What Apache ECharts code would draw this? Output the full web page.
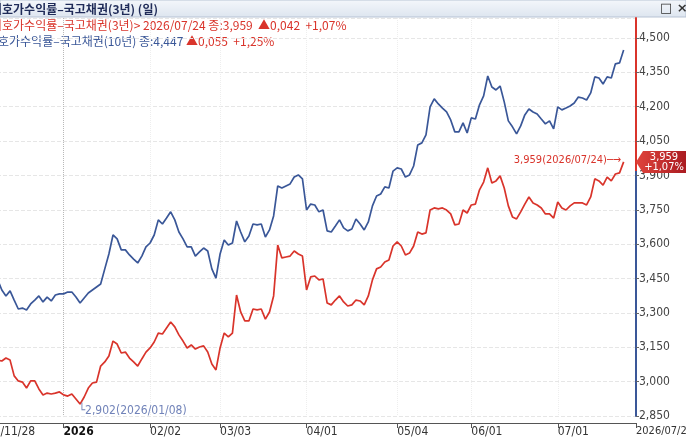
<!DOCTYPE html>
<html>
<head>
<meta charset="utf-8">
<title>호가수익률 - 국고채권</title>
<script src="https://cdn.jsdelivr.net/npm/echarts@6.0.0/dist/echarts.min.js"></script>
<style>
  html, body { margin: 0; padding: 0; background: #fff; }
  #main { width: 686px; height: 440px; }
</style>
</head>
<body>
<div id="main"></div>
<script>
// 거래일 인덱스 (0 = 2025/11/28)
const dayCount = 162;
const tickIdx = [0, 22, 43, 60, 81, 103, 121, 142, 161];
const tickText = ['2025/11/28', '2026', '02/02', '03/03', '04/01', '05/04', '06/01', '07/01', '2026/07/24'];

// 국고채권 10년
const yield10 = [
  3.461, 3.487, 3.470, 3.435, 3.452, 3.426, 3.444, 3.400, 3.374, 3.396,
  3.356, 3.317, 3.321, 3.313, 3.339, 3.356, 3.374, 3.348, 3.369, 3.352,
  3.378, 3.383, 3.383, 3.391, 3.391, 3.369, 3.343, 3.365, 3.387, 3.400,
  3.413, 3.426, 3.492, 3.557, 3.640, 3.623, 3.575, 3.575, 3.553, 3.535,
  3.518, 3.548, 3.588, 3.605, 3.640, 3.706, 3.688, 3.714, 3.741, 3.706,
  3.653, 3.623, 3.588, 3.588, 3.548, 3.566, 3.583, 3.570, 3.492, 3.452,
  3.557, 3.618, 3.596, 3.605, 3.701, 3.653, 3.610, 3.636, 3.688, 3.684,
  3.688, 3.631, 3.662, 3.723, 3.854, 3.845, 3.854, 3.863, 3.893, 3.902,
  3.885, 3.749, 3.775, 3.771, 3.741, 3.749, 3.658, 3.653, 3.679, 3.706,
  3.671, 3.658, 3.666, 3.710, 3.688, 3.662, 3.697, 3.767, 3.810, 3.819,
  3.850, 3.845, 3.919, 3.933, 3.928, 3.893, 3.902, 3.941, 4.033, 4.042,
  4.077, 4.199, 4.234, 4.212, 4.194, 4.177, 4.142, 4.090, 4.090, 4.129,
  4.085, 4.151, 4.146, 4.208, 4.247, 4.334, 4.286, 4.273, 4.290, 4.221,
  4.138, 4.112, 4.081, 4.116, 4.164, 4.190, 4.177, 4.168, 4.146, 4.125,
  4.138, 4.103, 4.199, 4.186, 4.194, 4.203, 4.216, 4.242, 4.238, 4.229,
  4.260, 4.330, 4.325, 4.299, 4.330, 4.325, 4.387, 4.391, 4.447
];

// 국고채권 3년
const yield3 = [
  3.116, 3.138, 3.125, 3.094, 3.108, 3.086, 3.094, 3.090, 3.103, 3.094,
  3.025, 3.003, 2.998, 2.972, 3.003, 3.003, 2.968, 2.942, 2.950, 2.946,
  2.950, 2.955, 2.942, 2.937, 2.946, 2.924, 2.902, 2.933, 2.972, 2.994,
  2.998, 3.068, 3.086, 3.112, 3.177, 3.164, 3.125, 3.129, 3.103, 3.086,
  3.068, 3.099, 3.129, 3.147, 3.173, 3.212, 3.208, 3.234, 3.260, 3.239,
  3.204, 3.177, 3.147, 3.160, 3.142, 3.151, 3.156, 3.129, 3.077, 3.051,
  3.147, 3.212, 3.195, 3.212, 3.378, 3.304, 3.265, 3.265, 3.317, 3.313,
  3.317, 3.273, 3.304, 3.374, 3.596, 3.540, 3.544, 3.548, 3.570, 3.557,
  3.548, 3.400, 3.457, 3.461, 3.444, 3.448, 3.343, 3.335, 3.356, 3.374,
  3.348, 3.330, 3.335, 3.356, 3.352, 3.335, 3.374, 3.444, 3.492, 3.500,
  3.522, 3.531, 3.592, 3.610, 3.592, 3.553, 3.561, 3.592, 3.653, 3.644,
  3.649, 3.749, 3.758, 3.754, 3.758, 3.749, 3.732, 3.684, 3.688, 3.749,
  3.736, 3.771, 3.775, 3.837, 3.871, 3.933, 3.867, 3.876, 3.898, 3.845,
  3.767, 3.719, 3.710, 3.741, 3.775, 3.806, 3.780, 3.771, 3.758, 3.732,
  3.732, 3.714, 3.784, 3.758, 3.749, 3.767, 3.780, 3.780, 3.780, 3.771,
  3.806, 3.885, 3.876, 3.858, 3.893, 3.876, 3.906, 3.911, 3.959
];

const RED = '#d9342b';
const BLUE = '#3a5798';
const NARROW = '"Liberation Sans Narrow", "DejaVu Sans Condensed", sans-serif';
const MIXED = '"Liberation Sans Narrow", "Noto Sans CJK KR", sans-serif';

const days = [];
for (let i = 0; i < dayCount; i++) days.push(String(i));

const isTick = (idx) => tickIdx.indexOf(idx) >= 0;
const comma = (v) => v.toFixed(3).replace('.', ',');

const last = yield3.length - 1;
let minIdx = 0;
for (let i = 1; i < yield3.length; i++) {
  if (yield3[i] < yield3[minIdx]) minIdx = i;
}

let chart = echarts.init(document.getElementById('main'));

let option = {
  animation: false,
  backgroundColor: '#fff',
  grid: { left: -27, right: 50, top: 18, bottom: 24, containLabel: false, outerBoundsMode: 'none' },
  xAxis: {
    type: 'category',
    data: days,
    boundaryGap: false,
    offset: 7,
    axisLine: { lineStyle: { color: '#555', width: 1 } },
    axisTick: { interval: isTick, length: 5, lineStyle: { color: '#555' } },
    axisLabel: {
      interval: isTick,
      align: 'left',
      margin: 3,
      fontFamily: NARROW,
      fontSize: 12,
      color: '#333',
      formatter: function (v, idx) {
        let t = tickText[tickIdx.indexOf(idx)];
        if (t === '2026') return '{b|2026}';
        if (idx === dayCount - 1) return '{e|' + t + '}';
        return t;
      },
      rich: {
        b: { fontFamily: NARROW, fontSize: 12, fontWeight: 'bold', color: '#111' },
        e: { fontFamily: NARROW, fontSize: 11, color: '#333' }
      }
    },
    splitLine: {
      show: true,
      interval: isTick,
      lineStyle: {
        type: 'dotted',
        color: ['#eeeeee', '#b8b8b8', '#eeeeee', '#eeeeee', '#eeeeee', '#eeeeee', '#eeeeee', '#eeeeee', '#eeeeee']
      }
    }
  },
  yAxis: {
    type: 'value',
    position: 'right',
    min: 2.85,
    max: 4.587,
    interval: 0.15,
    axisLine: {
      show: true,
      lineStyle: {
        width: 2,
        color: new echarts.graphic.LinearGradient(0, 0, 0, 1, [
          { offset: 0, color: RED },
          { offset: 0.385, color: RED },
          { offset: 0.385, color: BLUE },
          { offset: 1, color: BLUE }
        ])
      }
    },
    axisTick: { show: true, length: 3, lineStyle: { color: '#666' } },
    axisLabel: {
      margin: 3,
      showMaxLabel: false,
      fontFamily: NARROW,
      fontSize: 12,
      color: '#444',
      formatter: comma
    },
    splitLine: { lineStyle: { type: 'dashed', color: '#e6e6e6' } }
  },
  series: [
    {
      name: '국고채권(10년)',
      type: 'line',
      data: yield10,
      symbol: 'none',
      lineStyle: { color: BLUE, width: 1.7 },
      z: 3
    },
    {
      name: '국고채권(3년)',
      type: 'line',
      data: yield3,
      symbol: 'none',
      lineStyle: { color: RED, width: 1.7 },
      z: 4,
      markPoint: {
        silent: true,
        data: [
          // 오른쪽 현재가 태그
          {
            coord: [dayCount - 1, yield3[last]],
            symbol: 'path://M0,11 L7,0 L52,0 L52,22 L7,22 Z',
            symbolSize: [52, 22],
            symbolOffset: [26, 0],
            symbolKeepAspect: false,
            itemStyle: {
              color: new echarts.graphic.LinearGradient(0, 0, 1, 0, [
                { offset: 0, color: '#e0443c' },
                { offset: 1, color: '#a81a20' }
              ])
            },
            label: {
              show: true,
              position: 'inside',
              offset: [2, 0],
              formatter: comma(yield3[last]) + '\n+1,07%',
              color: '#fff',
              fontFamily: NARROW,
              fontSize: 11,
              lineHeight: 10
            }
          },
          // 마지막 값 주석
          {
            coord: [last, yield3[last]],
            symbol: 'rect',
            symbolSize: 1,
            itemStyle: { color: 'rgba(0,0,0,0)' },
            label: {
              show: true,
              position: 'left',
              distance: 2,
              offset: [0, -2],
              formatter: comma(yield3[last]) + '(2026/07/24)─→',
              color: RED,
              fontFamily: NARROW,
              fontSize: 11
            }
          },
          // 최저값 주석
          {
            coord: [minIdx, yield3[minIdx]],
            symbol: 'rect',
            symbolSize: 1,
            itemStyle: { color: 'rgba(0,0,0,0)' },
            label: {
              show: true,
              position: [-1, 1],
              align: 'left',
              verticalAlign: 'top',
              formatter: '└' + comma(yield3[minIdx]) + '(2026/01/08)',
              color: '#7183b9',
              fontFamily: NARROW,
              fontSize: 12
            }
          }
        ]
      }
    }
  ],
  graphic: [
    // 상단 타이틀 바
    {
      type: 'rect',
      silent: true,
      z: -1,
      shape: { x: 0, y: 0, width: 686, height: 17 },
      style: {
        fill: new echarts.graphic.LinearGradient(0, 0, 0, 1, [
          { offset: 0, color: '#f4f7fb' },
          { offset: 1, color: '#dde5ef' }
        ]),
        stroke: '#b7c3d4',
        lineWidth: 1
      }
    },
    {
      type: 'text',
      silent: true,
      x: -9,
      y: 9,
      style: {
        text: '외호가수익률–국고채권(3년) (일)',
        font: 'bold 12px "Noto Sans CJK KR", sans-serif',
        fill: '#1f2b58',
        verticalAlign: 'middle'
      }
    },
    {
      type: 'text',
      silent: true,
      x: 660,
      y: 9,
      style: {
        text: '□ ×',
        font: 'bold 13px "DejaVu Sans", sans-serif',
        fill: '#333',
        verticalAlign: 'middle'
      }
    },
    // 범례
    {
      type: 'text',
      silent: true,
      x: -9,
      y: 25,
      style: {
        text: '외호가수익률–국고채권(3년)> 2026/07/24 종:3,959  ▲0,042  +1,07%',
        font: '12px ' + MIXED,
        fill: RED,
        verticalAlign: 'middle'
      }
    },
    {
      type: 'text',
      silent: true,
      x: -2,
      y: 41,
      style: {
        text: '{b|호가수익률–국고채권(10년) 종:4,447} {r|▲0,055  +1,25%}',
        font: '12px ' + MIXED,
        verticalAlign: 'middle',
        rich: {
          b: { fill: BLUE, font: '12px ' + MIXED },
          r: { fill: RED, font: '12px ' + MIXED }
        }
      }
    }
  ]
};

chart.setOption(option);
</script>
</body>
</html>
